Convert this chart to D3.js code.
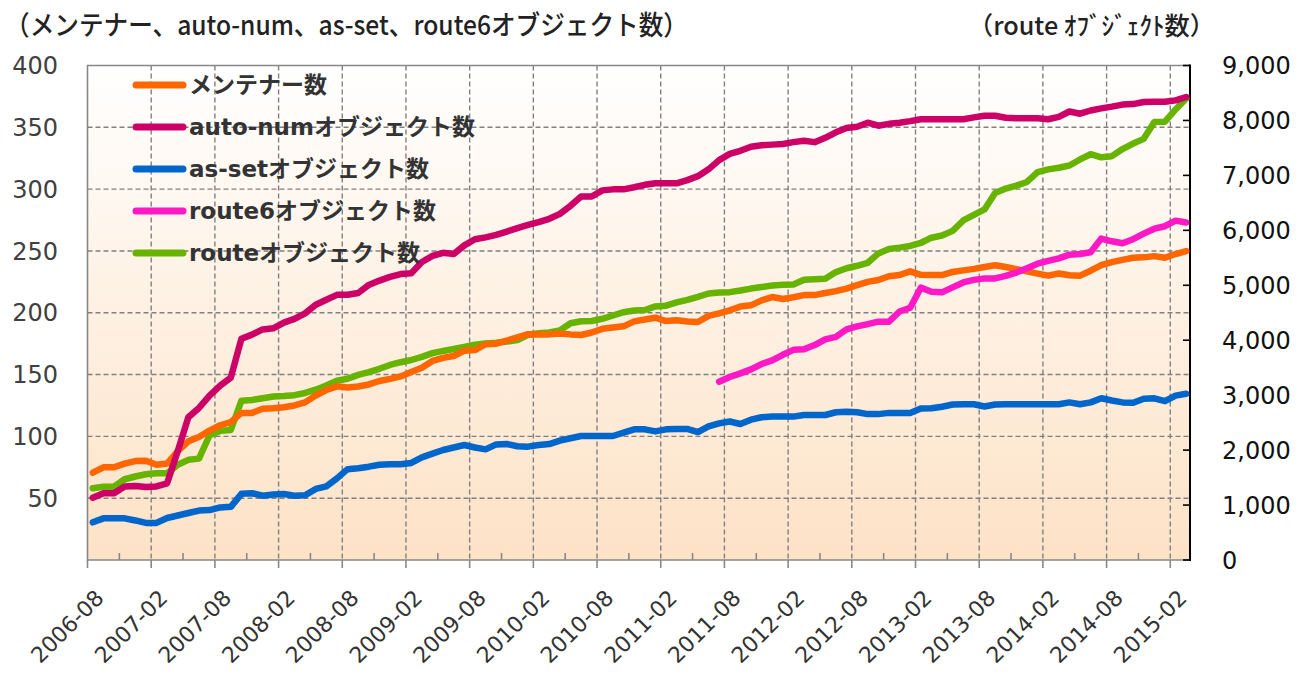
<!DOCTYPE html>
<html>
<head>
<meta charset="utf-8">
<script src="https://cdn.jsdelivr.net/npm/d3@7"></script>
<style>
  body { margin: 0; background: #fff; }
</style>
</head>
<body>
<svg id="chart" width="1297" height="682"></svg>
<script>
'use strict';

// monthly categories
var months = [
  "2006-08","2006-09","2006-10","2006-11","2006-12",
  "2007-01","2007-02","2007-03","2007-04","2007-05","2007-06","2007-07","2007-08","2007-09","2007-10","2007-11","2007-12",
  "2008-01","2008-02","2008-03","2008-04","2008-05","2008-06","2008-07","2008-08","2008-09","2008-10","2008-11","2008-12",
  "2009-01","2009-02","2009-03","2009-04","2009-05","2009-06","2009-07","2009-08","2009-09","2009-10","2009-11","2009-12",
  "2010-01","2010-02","2010-03","2010-04","2010-05","2010-06","2010-07","2010-08","2010-09","2010-10","2010-11","2010-12",
  "2011-01","2011-02","2011-03","2011-04","2011-05","2011-06","2011-07","2011-08","2011-09","2011-10","2011-11","2011-12",
  "2012-01","2012-02","2012-03","2012-04","2012-05","2012-06","2012-07","2012-08","2012-09","2012-10","2012-11","2012-12",
  "2013-01","2013-02","2013-03","2013-04","2013-05","2013-06","2013-07","2013-08","2013-09","2013-10","2013-11","2013-12",
  "2014-01","2014-02","2014-03","2014-04","2014-05","2014-06","2014-07","2014-08","2014-09","2014-10","2014-11","2014-12",
  "2015-01","2015-02","2015-03"
];

var xLabels = ["2006-08","2007-02","2007-08","2008-02","2008-08","2009-02","2009-08","2010-02","2010-08",
  "2011-02","2011-08","2012-02","2012-08","2013-02","2013-08","2014-02","2014-08","2015-02"];

var leftTicks = [50, 100, 150, 200, 250, 300, 350, 400];
var rightTicks = [0, 1000, 2000, 3000, 4000, 5000, 6000, 7000, 8000, 9000];

// メンテナー数
var maintainer = [70.6,75,75,78,80,80.3,77,78,88,96,99.5,104.7,109,111.5,119,119,122.3,122.7,123.5,125,
  127.5,133,137.5,140.5,139.5,140.3,142,144.8,146.5,148.5,152,155.5,161,163.5,165,169.3,169.8,174.5,175,177.5,
  180,182.7,182.5,182.5,183.3,182.5,182,184,187,188,189,193,194.5,196,193.3,194,193,192.5,197.5,199.5,
  202,205,206,210,212.7,211.1,212.5,214.3,214.3,216,217.5,219.5,222.3,225,226.5,229.5,230.5,233.5,230.7,230.5,
  230.5,233,234.3,235.5,237,238.4,237,235.3,233.5,231.7,230,231.7,230.3,230,234,238.5,241,242.8,244.5,244.8,
  245.8,244.5,247.5,249.8];

// auto-num
var autNum = [50.4,54,54,59.5,59.9,59,59.5,62,88,115.5,123,133,141,147.5,179,182.3,186.5,187.4,192,195,
  199.5,206.5,210.5,214.5,214.5,216,222.5,226,229,231.3,232,241,246,248.5,247.5,254.5,259.5,261,263,265.7,
  268.5,271,273.3,276,280,286.5,294,294,299,299.8,299.8,301.5,303.5,304.7,304.7,304.7,307.3,310.5,316,323.5,
  328.5,331,334.3,335.5,336,336.5,338,339.2,338,341.5,346,349.5,350.5,353.7,351.3,352.8,353.7,355,356.5,356.5,
  356.5,356.5,356.5,358,359.4,359.4,357.7,357.3,357.3,357.3,356.5,358.5,362.8,361,363.6,365.3,366.7,368.4,368.8,370.5,
  370.7,370.7,371.8,374.5];

// as-set
var asSet = [30.5,33.7,33.7,33.7,32,30,30,34,36,38,40,40.4,42.5,43,53.5,54,52,53,53.4,52,
  52.3,57.5,59.5,66,73.5,74.2,75.5,77,77.4,77.4,78.5,83,86,89,91,93,91,89.5,93.5,93.8,
  92,91.7,93,93.8,96.5,98.5,100.3,100.3,100.3,100.3,103,105.7,105.7,104,105.7,106,106,103.5,108,110.5,
  112,110,113.5,115.5,116,116,116,117.3,117.3,117.3,119.5,120,119.5,118,118,119,119,119,122.5,122.7,
  124,125.8,126,126,124.2,125.8,126,126,126,126,126,126,127.5,126,127.5,130.8,129,127.5,127.2,130.5,
  130.8,128.5,133,134.5];

// route6 (starts 2011-07)
var route6 = [null,null,null,null,null,null,null,null,null,null,null,null,null,null,null,null,null,null,null,null,
  null,null,null,null,null,null,null,null,null,null,null,null,null,null,null,null,null,null,null,null,
  null,null,null,null,null,null,null,null,null,null,null,null,null,null,null,null,null,null,null,144.2,
  148,151,154.2,158.5,161.5,166,170,170.4,173.9,178.5,180.5,186.5,189,190.8,192.8,192.8,201,204,220.3,217,
  216.5,220.5,224.5,226.6,227.8,227.8,229.8,232.5,236,239.7,242,244,247,247.5,249,260,257.8,256.2,259.5,264,
  268,270,274.5,273];

// route (right axis)
var route = [1305,1334,1334,1470,1520,1560,1577,1577,1733,1823,1845,2270,2350,2366,2900,2912,2945,2975,2985,3000,
  3040,3100,3175,3265,3300,3370,3420,3480,3550,3600,3640,3698,3765,3805,3840,3880,3920,3940,3955,3975,
  4004,4100,4126,4140,4180,4310,4345,4350,4390,4450,4510,4540,4550,4615,4628,4690,4735,4790,4850,4868,
  4875,4905,4940,4968,4995,5010,5015,5100,5108,5120,5240,5310,5355,5410,5580,5660,5685,5715,5770,5866,
  5905,5990,6180,6280,6380,6680,6760,6815,6880,7060,7110,7140,7180,7290,7385,7330,7350,7480,7580,7665,
  7970,7977,8200,8400];

var seriesNames = ["メンテナー数", "auto-numオブジェクト数", "as-setオブジェクト数", "route6オブジェクト数", "routeオブジェクト数"];
var seriesColors = ["#FF6600", "#CC0066", "#0066CC", "#FF19C6", "#66B300"];

var svg = d3.select("#chart");
var plotL = 87.5, plotR = 1190, plotT = 65.5, plotB = 560;

var x = d3.scaleBand().domain(months).range([plotL, 1191.5]).paddingInner(0).paddingOuter(0);
var yL = d3.scaleLinear().domain([0, 400]).range([plotB, plotT]);
var yR = d3.scaleLinear().domain([0, 9000]).range([plotB, plotT]);
var cx = function (m) { return x(m) + x.bandwidth() / 2; };

// plot background gradient
var grad = svg.append("defs").append("linearGradient")
  .attr("id", "bg").attr("x1", 0).attr("y1", 0).attr("x2", 0).attr("y2", 1);
grad.append("stop").attr("offset", "0%").attr("stop-color", "#FFFFFF");
grad.append("stop").attr("offset", "100%").attr("stop-color", "#FDE2C6");

svg.append("rect")
  .attr("x", plotL).attr("y", plotT)
  .attr("width", plotR - plotL).attr("height", plotB - plotT)
  .attr("fill", "url(#bg)");

// gridlines
var grid = svg.append("g")
  .attr("stroke", "#808080").attr("stroke-width", 1.4).attr("stroke-dasharray", "5,3");

grid.selectAll("line.h").data(leftTicks.filter(function (t) { return t < 400; }))
  .enter().append("line")
  .attr("x1", plotL).attr("x2", plotR)
  .attr("y1", function (d) { return yL(d); }).attr("y2", function (d) { return yL(d); });

grid.selectAll("line.v").data(xLabels.slice(1))
  .enter().append("line")
  .attr("x1", function (d) { return x(d); }).attr("x2", function (d) { return x(d); })
  .attr("y1", plotT).attr("y2", plotB);

// frame: top, left and bottom in gray
svg.append("path")
  .attr("d", "M" + plotR + "," + plotT + "H" + plotL + "V" + plotB + "H" + plotR)
  .attr("fill", "none").attr("stroke", "#888").attr("stroke-width", 1.6);

// bottom ticks: majors down, minors up
svg.append("g").selectAll("line")
  .data(xLabels)
  .enter().append("line")
  .attr("x1", function (d) { return x(d); }).attr("x2", function (d) { return x(d); })
  .attr("y1", plotB).attr("y2", plotB + 8)
  .attr("stroke", "#888").attr("stroke-width", 1.6);

svg.append("g").selectAll("line")
  .data(months.filter(function (m, i) { return i % 6 === 3; }))
  .enter().append("line")
  .attr("x1", function (d) { return x(d); }).attr("x2", function (d) { return x(d); })
  .attr("y1", plotB).attr("y2", plotB - 7)
  .attr("stroke", "#888").attr("stroke-width", 1.6);

// right axis (black) with inner ticks
svg.append("line")
  .attr("x1", plotR).attr("x2", plotR).attr("y1", plotT - 1).attr("y2", plotB + 1)
  .attr("stroke", "#000").attr("stroke-width", 2);
svg.append("g").selectAll("line")
  .data(rightTicks)
  .enter().append("line")
  .attr("x1", plotR - 7).attr("x2", plotR)
  .attr("y1", function (d) { return yR(d); }).attr("y2", function (d) { return yR(d); })
  .attr("stroke", "#000").attr("stroke-width", 1.6);

// axis labels
svg.append("g").selectAll("text")
  .data(leftTicks)
  .enter().append("text")
  .attr("x", 58).attr("y", function (d) { return yL(d); })
  .attr("dy", "0.36em")
  .attr("text-anchor", "end")
  .style("font-family", "'DejaVu Sans', Verdana, sans-serif")
  .style("font-size", "24px")
  .style("fill", "#404040")
  .text(function (d) { return d; });

svg.append("g").selectAll("text")
  .data(rightTicks)
  .enter().append("text")
  .attr("x", 1222).attr("y", function (d) { return yR(d); })
  .attr("dy", "0.36em")
  .style("font-family", "'DejaVu Sans', Verdana, sans-serif")
  .style("font-size", "24px")
  .style("fill", "#111")
  .text(d3.format(","));

svg.append("g").selectAll("text")
  .data(xLabels)
  .enter().append("text")
  .attr("transform", function (d) { return "translate(" + (cx(d) + 7) + "," + 594 + ") rotate(-45)"; })
  .attr("dy", "0.35em")
  .attr("text-anchor", "end")
  .style("font-family", "'DejaVu Sans', Verdana, sans-serif")
  .style("font-size", "22px")
  .style("fill", "#333")
  .text(function (d) { return d; });

// axis titles
svg.append("text")
  .attr("x", 5).attr("y", 26).attr("dy", "0.35em")
  .attr("textLength", 683).attr("lengthAdjust", "spacingAndGlyphs")
  .style("font-family", "'Noto Sans CJK JP', sans-serif")
  .style("font-size", "27px").style("font-weight", 500)
  .style("fill", "#222")
  .text("（メンテナー、auto-num、as-set、route6オブジェクト数）");

svg.append("text")
  .attr("x", 968).attr("y", 26).attr("dy", "0.35em")
  .attr("textLength", 247).attr("lengthAdjust", "spacingAndGlyphs")
  .style("font-family", "'Noto Sans CJK JP', sans-serif")
  .style("font-size", "25px").style("font-weight", 500)
  .style("fill", "#222")
  .text("（route ｵﾌﾞｼﾞｪｸﾄ数）");

// lines
var lineL = d3.line()
  .defined(function (d) { return d != null; })
  .x(function (d, i) { return cx(months[i]); })
  .y(function (d) { return yL(d); });
var lineR = d3.line()
  .x(function (d, i) { return cx(months[i]); })
  .y(function (d) { return yR(d); });

var plotLines = svg.append("g")
  .attr("fill", "none")
  .attr("stroke-width", 6.5)
  .attr("stroke-linejoin", "round")
  .attr("stroke-linecap", "round");

// secondary (route) sits under the primary series
plotLines.append("path").attr("d", lineR(route)).attr("stroke", seriesColors[4]);
plotLines.append("path").attr("d", lineL(maintainer)).attr("stroke", seriesColors[0]);
plotLines.append("path").attr("d", lineL(autNum)).attr("stroke", seriesColors[1]);
plotLines.append("path").attr("d", lineL(asSet)).attr("stroke", seriesColors[2]);
plotLines.append("path").attr("d", lineL(route6)).attr("stroke", seriesColors[3]);

// legend
var legend = svg.append("g");
var rows = legend.selectAll("g")
  .data(seriesNames)
  .enter().append("g")
  .attr("transform", function (d, i) { return "translate(136," + (85 + i * 42) + ")"; });
rows.append("line")
  .attr("x1", 0).attr("x2", 47)
  .attr("stroke", function (d, i) { return seriesColors[i]; })
  .attr("stroke-width", 7).attr("stroke-linecap", "round");
rows.append("text")
  .attr("x", 53).attr("dy", "0.35em")
  .style("font-family", "'DejaVu Sans', 'Noto Sans CJK JP', sans-serif")
  .style("font-size", "23px").style("font-weight", 700)
  .style("fill", "#333")
  .text(function (d) { return d; });
</script>
</body>
</html>
